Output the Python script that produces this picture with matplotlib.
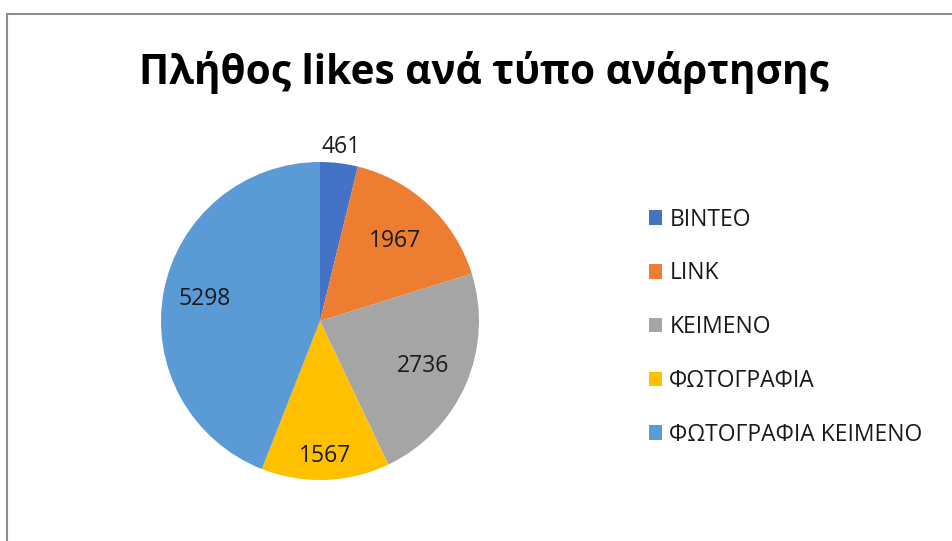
import matplotlib
matplotlib.use("Agg")
import matplotlib.pyplot as plt
from matplotlib.patches import Rectangle
import numpy as np

categories = ["ΒΙΝΤΕΟ", "LINK", "ΚΕΙΜΕΝΟ", "ΦΩΤΟΓΡΑΦΙΑ", "ΦΩΤΟΓΡΑΦΙΑ ΚΕΙΜΕΝΟ"]
values = [461, 1967, 2736, 1567, 5298]
title = "Πλήθος likes ανά τύπο ανάρτησης"

colors = ["#4472C4", "#ED7D31", "#A5A5A5", "#FFC000", "#5B9BD5"]
label_radii = [1.1, 0.69, 0.71, 0.85, 0.74]

plt.rcParams['font.family'] = ['Open Sans', 'DejaVu Sans']

W, H = 952, 541
fig = plt.figure(figsize=(W / 100, H / 100), dpi=100)

# border
fig.patches.append(Rectangle((7 / W, -0.1), 1.2, 1 - 14 / H + 0.1, transform=fig.transFigure,
                             fill=False, edgecolor="#8c8c8c", linewidth=1.5))

cx, cy, r = 320, 321, 159
ax = fig.add_axes([(cx - r) / W, (H - cy - r) / H, 2 * r / W, 2 * r / H])
wedges, _ = ax.pie(values, colors=colors, startangle=90, counterclock=False,
                   wedgeprops=dict(linewidth=0))
ax.set_aspect('equal')
ax.set_xlim(-1, 1)
ax.set_ylim(-1, 1)

for w, v, lr in zip(wedges, values, label_radii):
    ang = np.deg2rad((w.theta1 + w.theta2) / 2)
    ax.text(lr * np.cos(ang), lr * np.sin(ang), str(v), ha='center', va='center',
            fontsize=16.5, color='#1a1a1a')

fig.text(484 / W, 1 - 73 / H, title, ha='center', va='center', fontsize=29.2,
         fontweight='bold', color='black')

leg = fig.legend(wedges, categories, loc='upper left', bbox_to_anchor=(628 / W, 1 - 187 / H),
                 frameon=False, fontsize=16.5, handlelength=0.6, handleheight=0.6,
                 handletextpad=0.3, labelspacing=1.3)
for t in leg.get_texts():
    t.set_color('#1a1a1a')

fig.savefig("out.png", dpi=100)
